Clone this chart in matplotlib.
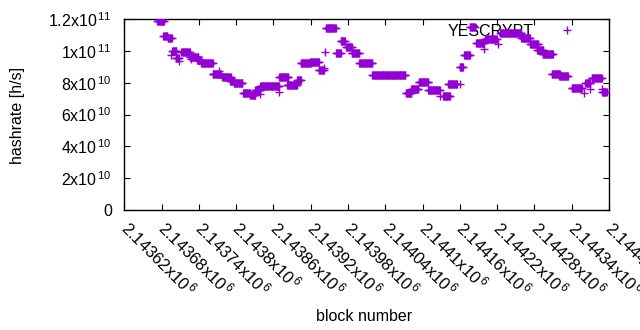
import numpy as np
import matplotlib
matplotlib.use("Agg")
import matplotlib.pyplot as plt

plt.rcParams['font.family'] = ['Liberation Sans', 'DejaVu Sans']
plt.rcParams['mathtext.fontset'] = 'custom'
plt.rcParams['mathtext.rm'] = 'Liberation Sans'
plt.rcParams['mathtext.it'] = 'Liberation Sans:italic'
plt.rcParams['mathtext.bf'] = 'Liberation Sans:bold'

# hashrate runs: first block, last block, hashrate (x10^10 h/s)
run_start = [2143673, 2143683, 2143690, 2143695, 2143697, 2143703, 2143708, 2143712, 2143725,
             2143727, 2143737, 2143744, 2143762, 2143772, 2143778, 2143790, 2143796, 2143811,
             2143822, 2143838, 2143831, 2143839, 2143869, 2143869, 2143882, 2143898, 2143904,
             2143919, 2143933, 2143941, 2143943, 2143944, 2143961, 2143968, 2143977, 2143986,
             2143998, 2144019, 2144073, 2144082, 2144094, 2144109, 2144128, 2144133, 2144141,
             2144160, 2144160, 2144167, 2144176, 2144186, 2144199, 2144200, 2144221, 2144225,
             2144259, 2144273, 2144284, 2144293, 2144308, 2144320, 2144340, 2144359, 2144362,
             2144370, 2144372, 2144388, 2144389]
run_end = [2143684, 2143689, 2143696, 2143695, 2143704, 2143708, 2143708, 2143725, 2143739,
           2143727, 2143744, 2143762, 2143775, 2143772, 2143791, 2143797, 2143810, 2143822,
           2143831, 2143838, 2143839, 2143869, 2143869, 2143884, 2143898, 2143904, 2143920,
           2143933, 2143941, 2143941, 2143943, 2143960, 2143968, 2143975, 2143986, 2143998,
           2144019, 2144072, 2144082, 2144093, 2144109, 2144128, 2144128, 2144144, 2144155,
           2144160, 2144165, 2144176, 2144184, 2144199, 2144199, 2144219, 2144221, 2144259,
           2144273, 2144286, 2144294, 2144310, 2144321, 2144334, 2144356, 2144359, 2144370,
           2144370, 2144388, 2144388, 2144396]
run_rate = [11.87, 10.93, 10.83, 9.76, 9.97, 9.57, 9.36, 9.95, 9.64,
            9.47, 9.41, 9.26, 8.57, 8.73, 8.36, 8.09, 8.01, 7.34,
            7.25, 7.27, 7.56, 7.76, 7.42, 8.34, 7.84, 8.18, 9.24,
            9.32, 8.78, 8.95, 9.95, 11.46, 9.84, 10.63, 10.25, 9.86,
            9.22, 8.51, 7.38, 7.59, 8.03, 7.56, 7.17, 7.15, 7.90,
            7.90, 8.97, 9.72, 11.47, 10.47, 10.09, 10.72, 10.41, 11.10,
            10.78, 10.41, 10.03, 9.78, 8.53, 8.40, 7.65, 7.38, 7.96,
            7.63, 8.28, 7.63, 7.40]

y_ticks = [0, 2e10, 4e10, 6e10, 8e10, 1e11, 1.2e11]
y_labels = ['0', '2x10$^{\\,10}$', '4x10$^{\\,10}$', '6x10$^{\\,10}$', '8x10$^{\\,10}$',
            '1x10$^{\\,11}$', '1.2x10$^{\\,11}$']
x_ticks = np.arange(2143620, 2144401, 60)

blocks = []
rates = []
for s, e, r in zip(run_start, run_end, run_rate):
    # one point per block in the run
    b = np.arange(s, e + 1)
    blocks.extend(b)
    rates.extend([r * 1e10] * len(b))

fig = plt.figure(figsize=(6.4, 3.3), dpi=100)
ax = fig.add_axes([124.3/640, 120/330, 484.7/640, 191/330])

purple = '#9400D3'
ax.plot(blocks, rates, linestyle='none', marker='+', markersize=5.4, mew=1.0,
        color=purple, label='YESCRYPT', zorder=3)

ax.set_xlim(2143620, 2144400)
ax.set_ylim(0, 1.2e11)
ax.set_yticks(y_ticks)
ax.set_yticklabels(y_labels, fontsize=11.5)
ax.set_xticks(x_ticks)
ax.set_xticklabels(['%gx10$^{\\,6}$' % (t / 1e6) for t in x_ticks], fontsize=12,
                   rotation=-45, ha='left', va='center', rotation_mode='anchor')
ax.tick_params(direction='in', top=True, right=True, length=4, width=0.8,
               colors='black')
ax.tick_params(axis='y', pad=9)
ax.tick_params(axis='x', pad=10)
for sp in ax.spines.values():
    sp.set_linewidth(1.0)

ax.set_xlabel('block number', fontsize=11.5)
ax.set_ylabel('hashrate [h/s]', fontsize=11.5)
ax.xaxis.set_label_coords((364 - 124.3) / 484.7, (210 - 309) / 191)
ax.yaxis.set_label_coords((25 - 124.3) / 484.7, (210 - 115) / 191)

leg = ax.legend(loc='center right', bbox_to_anchor=((591 - 124.3) / 484.7, (210 - 31.5) / 191),
                frameon=False, markerfirst=False, borderpad=0, handlelength=2.0,
                handletextpad=1.12, fontsize=11.5)
leg.set_zorder(1)

fig.savefig('out.png', dpi=100)
